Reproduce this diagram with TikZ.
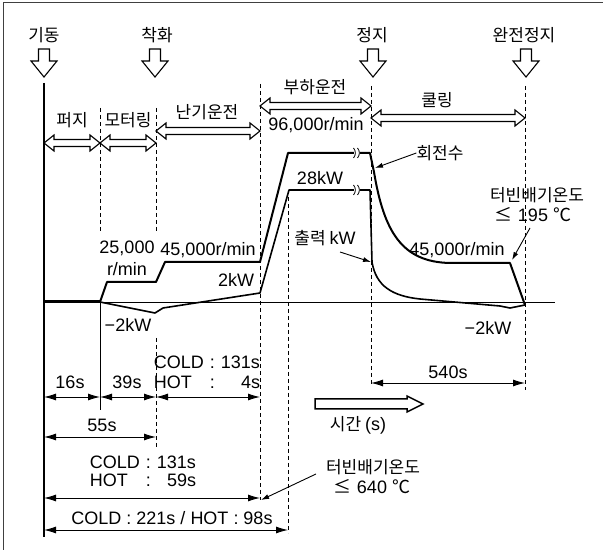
\documentclass[tikz,border=0pt]{standalone}
\usepackage{fontspec}
\setmainfont{Liberation Sans}
\newfontfamily\kr{Noto Sans CJK KR}
\usetikzlibrary{arrows.meta}
\newcommand\DblArr[3]{\draw[blockarrow] (#1,#3) -- ++(10,-8) -- ++(0,4.5) -- (#2-10,#3-3.5) -- ++(0,-4.5) -- (#2,#3) -- ++(-10,8) -- ++(0,-4.5) -- (#1+10,#3+3.5) -- ++(0,4.5) -- cycle;}
\newcommand\DownArr[1]{\draw[blockarrow] (#1-5.5,49) -- (#1+5.5,49) -- (#1+5.5,61) -- (#1+13,61) -- (#1,77) -- (#1-13,61) -- (#1-5.5,61) -- cycle;}
\newcommand\BreakMark[2]{\fill[white] (#1-3,#2-4) rectangle (#1+3,#2+4);
  \draw[line width=0.8pt] (#1-3.5,#2-5) .. controls (#1-1,#2-2) and (#1-1,#2+2) .. (#1-3.5,#2+5);
  \draw[line width=0.8pt] (#1+0.5,#2-5) .. controls (#1+3,#2-2) and (#1+3,#2+2) .. (#1+0.5,#2+5);}
\begin{document}
\begin{tikzpicture}[x=1pt,y=-1pt,
  lbl/.style={font=\fontsize{18}{20}\selectfont, inner sep=0pt},
  kr/.style={font=\kr\fontsize{17}{19}\selectfont, inner sep=0pt},
  blockarrow/.style={draw=black, line width=1.1pt, fill=white, line join=miter},
  dashline/.style={line width=0.9pt, dash pattern=on 4pt off 3pt},
  dim/.style={line width=0.9pt, {Latex[length=12pt,width=7pt]}-{Latex[length=12pt,width=7pt]}},
  lead/.style={line width=0.9pt, -{Latex[length=8pt,width=5pt]}},
  speed/.style={line width=2pt, line join=round},
  power/.style={line width=1.6pt, line join=round}]
\useasboundingbox (0,0) rectangle (606,553);
% frame
\draw[line width=1pt, black!75] (3,550) -- (3,3) -- (603,3);

% top event labels and arrows
\node[kr] (kidong) at (44,35) {기동};
\node[kr] (chakhwa) at (157,35) {착화};
\node[kr] (jeongji) at (372,35) {정지};
\node[kr] (wanjeon) at (524,35) {완전정지};
\DownArr{44}
\DownArr{155}
\DownArr{373}
\DownArr{526}

% vertical lines
\draw[line width=1.2pt] (44,83) -- (44,537);
\draw[dashline] (100,108) -- (100,233);
\draw[line width=1pt] (100,302) -- (100,410);
\draw[dashline] (156,108) -- (156,233);
\draw[dashline] (156,338) -- (156,447);
\draw[dashline] (260,84) -- (260,500);
\draw[dashline] (288,190) -- (288,533);
\draw[dashline] (371,86) -- (371,385);
\draw[dashline] (525,86) -- (525,390);

% phase double arrows
\DblArr{44}{100}{143}
\DblArr{100}{156}{143}
\DblArr{156}{260}{131}
\DblArr{260}{371}{106}
\DblArr{371}{525}{118}
\node[kr] (purge) at (72,120) {퍼지};
\node[kr] (motor) at (128,120) {모터링};
\node[kr] (warm) at (207,112) {난기운전};
\node[kr] (load) at (315,87) {부하운전};
\node[kr] (cool) at (437,100) {쿨링};
\node[lbl] (n96) at (316,125) {96,000r/min};

% baseline
\draw[line width=0.8pt] (44,302) -- (555,302);
\draw[line width=3pt] (44,302) -- (100,302);

% speed curve
\draw[speed] (100,302) -- (107,282) -- (156,282) -- (165,262) -- (260,262) -- (288,153) -- (370,153) -- (374,172) .. controls (384,232) and (402,262) .. (450,263) -- (510,263) -- (525,305);
% power curve
\draw[power] (100,302) -- (155,313) -- (163,308) -- (260,293) -- (289,190) -- (370,190) -- (372,262) .. controls (376,286) and (392,296) .. (420,299) -- (500,306) -- (510,308) -- (525,305);
\BreakMark{357}{153}
\BreakMark{357}{190}

% curve labels
\node[lbl] (r25a) at (127,248) {25,000};
\node[lbl] (r25b) at (127,269) {r/min};
\node[lbl] (r45a) at (208,250) {45,000r/min};
\node[lbl] (kw2) at (236,280) {2kW};
\node[lbl] (kw28) at (320,178) {28kW};
\node[lbl] (r45b) at (457,250) {45,000r/min};
\node[lbl] (m2a) at (128,325) {−2kW};
\node[lbl] (m2b) at (488,328) {−2kW};
\node[kr] (rpm) at (440,153) {회전수};
\coordinate (rpmpt) at (375,168);
\draw[lead] (rpm.west) -- (rpmpt);
\node (pw) at (325,238) {\kr\fontsize{17}{19}\selectfont 출력 \fontsize{18}{20}\selectfont\rmfamily kW};
\coordinate (pwpt) at (371,262);
\draw[lead] (340,252) -- (pwpt);
\node[kr] (tex1) at (537,195) {터빈배기온도};
\node[lbl] (tex1b) at (533,215) {{\kr ≤} 195 {\kr ℃}};
\coordinate (tex1pt) at (512,260);
\draw[lead] (530,228) -- (tex1pt);

% dimension arrows
\draw[dim] (44,397) -- (100,397);
\draw[dim] (100,397) -- (156,397);
\draw[dim] (156,397) -- (260,397);
\draw[dim] (44,437) -- (156,437);
\draw[dim] (44,498) -- (260,498);
\draw[dim] (44,530) -- (288,530);
\draw[dim] (371,383) -- (525,383);
\node[lbl] (s16) at (70,382) {16s};
\node[lbl] (s39) at (127,382) {39s};
\node[lbl] (c1) at (207,375) {\begin{tabular}{@{}l@{\hspace{6pt}}c@{\hspace{6pt}}r@{}}COLD & : & 131s\\ HOT & : & 4s\end{tabular}};
\node[lbl] (s55) at (102,425) {55s};
\node[font=\fontsize{18}{18}\selectfont, inner sep=0pt] (c2) at (143,474) {\begin{tabular}{@{}l@{\hspace{6pt}}c@{\hspace{6pt}}r@{}}COLD & : & 131s\\ HOT & : & 59s\end{tabular}};
\node[lbl] (c3) at (172,518) {COLD : 221s / HOT : 98s};
\node[lbl] (s540) at (448,372) {540s};

% time arrow
\draw[blockarrow, line width=1.5pt] (315,399) -- (407,399) -- (407,396) -- (423,404) -- (407,412) -- (407,409) -- (315,409) -- cycle;
\node (time) at (358,425) {\kr\fontsize{17}{19}\selectfont 시간 \rmfamily\fontsize{18}{20}\selectfont (s)};

% exhaust temp 640
\node[kr] (tex2) at (373,467) {터빈배기온도};
\node[lbl] (tex2b) at (372,487) {{\kr ≤} 640 {\kr ℃}};
\coordinate (tex2pt) at (261,500);
\draw[lead] (316,474) -- (tex2pt);
\end{tikzpicture}
\end{document}
